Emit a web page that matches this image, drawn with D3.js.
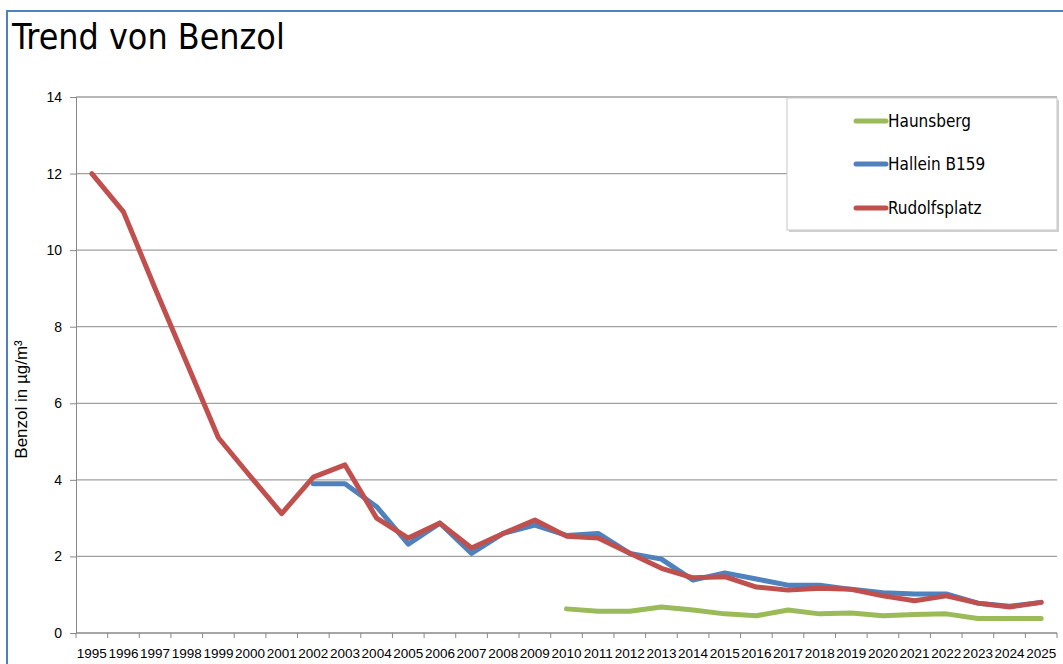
<!DOCTYPE html>
<html>
<head>
	<meta charset="utf-8">
	<title>Trend von Benzol</title>
	<script src="https://d3js.org/d3.v7.min.js" charset="utf-8"></script>
	<style>
	body {margin: 0; background-color: #fff;}
	svg {display: block;}
	.title {font-family: "DejaVu Sans Condensed", "DejaVu Sans", sans-serif; font-stretch: condensed; font-size: 35.5px;}
	.tick text {font-family: "Liberation Sans", sans-serif; fill: #000;}
	.legend text {font-family: "DejaVu Sans Condensed", "DejaVu Sans", sans-serif; font-stretch: condensed; font-size: 17px;}
	</style>
</head>
<body>
<script>

var years = d3.range(1995, 2026).map(String);

// Werte in µg/m³, null = keine Messung
var haunsberg = [null, null, null, null, null, null, null, null, null, null, null, null, null, null, null,
	0.63, 0.57, 0.57, 0.68, 0.6, 0.5, 0.45, 0.6, 0.5, 0.52, 0.45, 0.48, 0.5, 0.38, 0.38, 0.38];
var hallein = [null, null, null, null, null, null, null,
	3.9, 3.9, 3.3, 2.32, 2.87, 2.08, 2.6, 2.82, 2.55, 2.6, 2.08, 1.93, 1.38, 1.57, 1.41, 1.25, 1.25, 1.14, 1.05, 1.02, 1.02, 0.78, 0.7, 0.8];
var rudolfsplatz = [12, 11, 9.0, 7.05, 5.1, 4.1, 3.12, 4.07, 4.39, 3.0, 2.48, 2.87, 2.22, 2.6, 2.95,
	2.53, 2.48, 2.08, 1.69, 1.44, 1.47, 1.2, 1.12, 1.17, 1.14, 0.97, 0.84, 0.97, 0.78, 0.68, 0.8];

var yTicks = [0, 2, 4, 6, 8, 10, 12, 14];

var series = [
	{name: "Haunsberg", values: haunsberg, color: "#9BBB59"},
	{name: "Hallein B159", values: hallein, color: "#4F81BD"},
	{name: "Rudolfsplatz", values: rudolfsplatz, color: "#C0504D"}
];

var width = 1063, height = 664;
var margin = {left: 76, right: 6, top: 97, bottom: 31};

var svg = d3.select("body").append("svg")
	.attr("width", width)
	.attr("height", height);

// Rahmen
svg.append("path")
	.attr("d", "M7," + height + "V11H" + width)
	.attr("fill", "none")
	.attr("stroke", "#4F81BD")
	.attr("stroke-width", 2);

svg.append("text")
	.attr("class", "title")
	.attr("x", 12)
	.attr("y", 49)
	.text("Trend von Benzol");

var x = d3.scaleBand()
	.domain(years)
	.range([margin.left, width - margin.right]);

var y = d3.scaleLinear()
	.domain([0, 14])
	.range([height - margin.bottom, margin.top]);

// Gitterlinien
svg.append("g")
	.selectAll("line")
	.data(yTicks.filter(function(d) { return d > 0; }))
	.enter()
	.append("line")
	.attr("x1", margin.left)
	.attr("x2", width - margin.right)
	.attr("y1", function(d) { return y(d); })
	.attr("y2", function(d) { return y(d); })
	.attr("stroke", "#A0A0A0")
	.attr("stroke-width", 1.3);

var yAxis = svg.append("g")
	.attr("transform", "translate(" + margin.left + ",0)")
	.call(d3.axisLeft(y).tickValues(yTicks).tickSize(6).tickPadding(8));
yAxis.selectAll("text").attr("font-size", 14);

var xAxis = svg.append("g")
	.attr("transform", "translate(0," + (height - margin.bottom) + ")")
	.call(d3.axisBottom(x).tickSize(0).tickPadding(15));
xAxis.selectAll("text").attr("font-size", 13.5);
xAxis.select(".domain").remove();

// Striche zwischen den Jahren
svg.append("g")
	.selectAll("line")
	.data(years.concat(["end"]))
	.enter()
	.append("line")
	.attr("x1", function(d, i) { return margin.left + i * x.step(); })
	.attr("x2", function(d, i) { return margin.left + i * x.step(); })
	.attr("y1", height - margin.bottom)
	.attr("y2", height - margin.bottom + 5)
	.attr("stroke", "#888");

svg.append("line")
	.attr("x1", margin.left)
	.attr("x2", width - margin.right)
	.attr("y1", y(0))
	.attr("y2", y(0))
	.attr("stroke", "#888")
	.attr("stroke-width", 1.3);

svg.selectAll(".domain, .tick line").attr("stroke", "#888");

svg.append("text")
	.attr("transform", "translate(27," + y(6.1) + ") rotate(-90)")
	.attr("text-anchor", "middle")
	.attr("font-family", "Liberation Sans, sans-serif")
	.attr("font-size", 17)
	.text("Benzol in µg/m³");

var line = d3.line()
	.defined(function(d) { return d != null; })
	.x(function(d, i) { return x(years[i]) + x.bandwidth() / 2; })
	.y(function(d) { return y(d); });

svg.append("g")
	.selectAll("path")
	.data(series)
	.enter()
	.append("path")
	.attr("d", function(d) { return line(d.values); })
	.attr("fill", "none")
	.attr("stroke", function(d) { return d.color; })
	.attr("stroke-width", 5)
	.attr("stroke-linejoin", "round")
	.attr("stroke-linecap", "round");

// Legende
var legend = svg.append("g").attr("class", "legend");
legend.append("rect")
	.attr("x", 789).attr("y", 100).attr("width", 270).attr("height", 132)
	.attr("fill", "#D0D0D0");
legend.append("rect")
	.attr("x", 787).attr("y", 98).attr("width", 270).attr("height", 132)
	.attr("fill", "#fff").attr("stroke", "#C8C8C8");

var item = legend.selectAll(".item")
	.data(series)
	.enter()
	.append("g")
	.attr("transform", function(d, i) { return "translate(0," + [121, 164, 208][i] + ")"; });
item.append("line")
	.attr("x1", 856).attr("x2", 886)
	.attr("stroke", function(d) { return d.color; })
	.attr("stroke-width", 5)
	.attr("stroke-linecap", "round");
item.append("text")
	.attr("x", 888).attr("y", 6)
	.text(function(d) { return d.name; });

</script>
</body>
</html>
